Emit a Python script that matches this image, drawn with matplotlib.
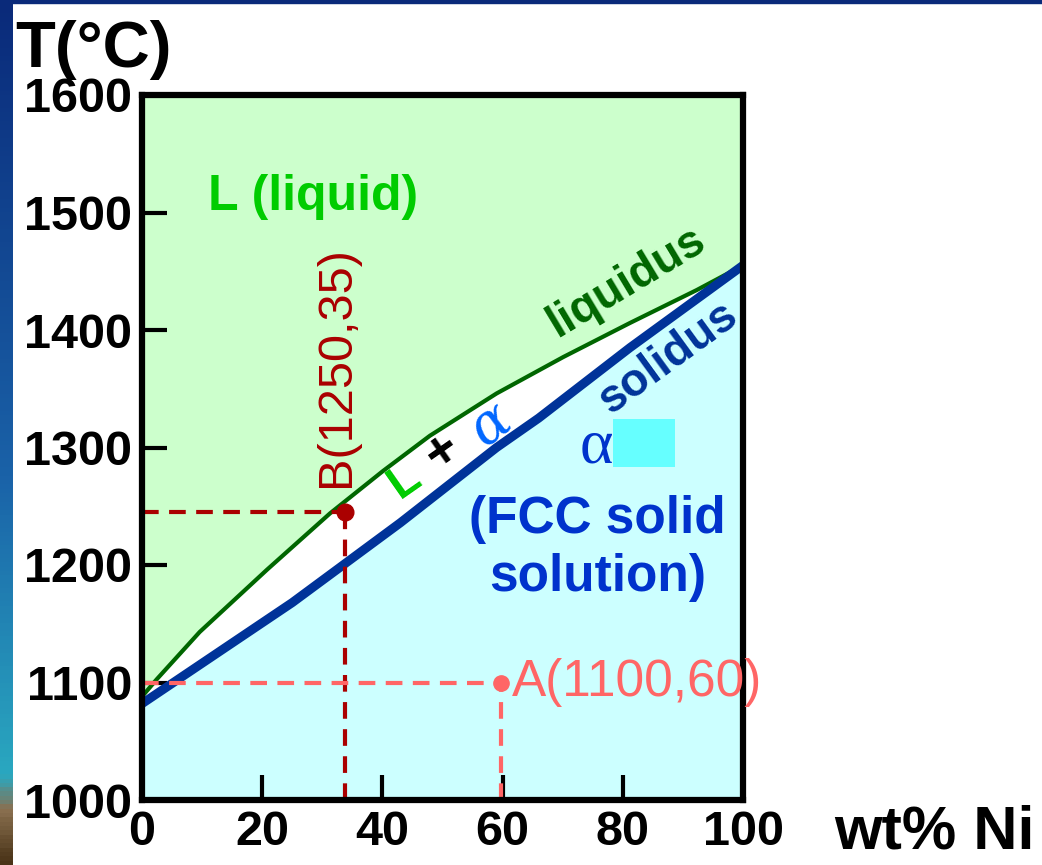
import numpy as np
import matplotlib.pyplot as plt
from matplotlib.colors import LinearSegmentedColormap
from matplotlib.patches import Rectangle

plt.rcParams['font.family'] = ['Liberation Sans', 'DejaVu Sans']

# liquidus / solidus
liq_ni = [0, 2.5, 9.6, 20.8, 31.3, 40.1, 47.9, 59.0, 70.1, 81.2, 92.3, 100]
liq_t = [1088, 1103, 1143, 1196, 1244, 1280, 1310, 1346, 1377, 1406, 1434, 1455]
sol_ni = [0, 25, 43, 59, 66, 81.2, 100]
sol_t = [1082, 1168, 1236, 1300, 1325, 1385, 1455]

# marked points
pt_b = (33.7, 1245)
pt_a = (59.7, 1100)
label_b = 'B(1250,35)'
label_a = 'A(1100,60)'

x_ticks = [0, 20, 40, 60, 80, 100]
y_ticks = [1000, 1100, 1200, 1300, 1400, 1500, 1600]

fig = plt.figure(figsize=(10.42, 8.65), dpi=100)

# slide decoration strips
deco = fig.add_axes([0, 0, 13 / 1042, 1])
cmap = LinearSegmentedColormap.from_list(
    'slide', [(0, '#4a3418'), (0.06, '#8a7050'), (0.1, '#2aa8c0'), (0.45, '#1a62a8'), (1, '#0a2a7a')])
deco.imshow(np.linspace(0, 1, 200).reshape(-1, 1), aspect='auto', cmap=cmap, origin='lower')
deco.axis('off')
fig.patches.append(Rectangle((0, 1 - 3 / 865), 1, 3 / 865, transform=fig.transFigure,
                             color='#0a2a7a', zorder=0))

ax = fig.add_axes([142 / 1042, 1 - 800 / 865, 601 / 1042, 705 / 865])
ax.set_xlim(0, 100)
ax.set_ylim(1000, 1600)

xs = np.linspace(0, 100, 400)
liq_full = np.interp(xs, liq_ni, liq_t)
sol_full = np.interp(xs, sol_ni, sol_t)
ax.fill_between(xs, liq_full, 1600, color='#ccffcc', lw=0)
ax.fill_between(xs, 1000, sol_full, color='#ccffff', lw=0)

ax.plot(liq_ni, liq_t, color='#006600', lw=3, solid_joinstyle='round')
ax.plot(sol_ni, sol_t, color='#003399', lw=6.5, solid_capstyle='butt')

# dashed guides
ax.plot([0, pt_b[0]], [pt_b[1], pt_b[1]], color='#aa0000', lw=3, dashes=(4, 2.5))
ax.plot([pt_b[0], pt_b[0]], [1000, pt_b[1]], color='#aa0000', lw=3, dashes=(4, 2.5))
ax.plot(*pt_b, 'o', color='#aa0000', ms=12)
ax.plot([0, pt_a[0]], [pt_a[1], pt_a[1]], color='#ff6666', lw=3, dashes=(4, 2.5))
ax.plot([pt_a[0], pt_a[0]], [1000, pt_a[1]], color='#ff6666', lw=3, dashes=(4, 2.5))
ax.plot(*pt_a, 'o', color='#ff6666', ms=11)

ax.text(32.4, 1369, label_b, rotation=90, color='#aa0000', fontsize=35,
        ha='center', va='center')
ax.text(61.5, 1100, label_a, color='#ff6666', fontsize=37, ha='left', va='center',
        clip_on=False)

ax.text(11, 1513, 'L (liquid)', color='#00cc00', fontsize=36, fontweight='bold',
        ha='left', va='center')
ax.text(80.6, 1441, 'liquidus', color='#006600', fontsize=33, fontweight='bold',
        rotation=31, ha='center', va='center')
ax.text(87.5, 1376, 'solidus', color='#003399', fontsize=33, fontweight='bold',
        rotation=36, ha='center', va='center')

ax.text(43.8, 1272, 'L', color='#00cc00', fontsize=34, fontweight='bold', rotation=35,
        ha='center', va='center')
ax.text(50, 1296, '+', color='black', fontsize=38, fontweight='bold', rotation=35,
        ha='center', va='center')
ax.text(58, 1320, 'α', color='#0066ff', fontsize=40, style='italic', rotation=35,
        family='DejaVu Serif', ha='center', va='center')

ax.add_patch(Rectangle((78.4, 1283), 10.3, 41, color='#66ffff', lw=0))
ax.text(75.6, 1300, 'α', color='#0033cc', fontsize=46, family='Liberation Serif',
        ha='center', va='center')
ax.text(75.8, 1214, '(FCC solid\nsolution)', color='#0033cc', fontsize=37,
        fontweight='bold', ha='center', va='center', linespacing=1.22)

ax.set_xticks(x_ticks)
ax.set_yticks(y_ticks)
ax.tick_params(direction='in', length=18, width=3, labelsize=35, pad=7)
for lab in ax.get_xticklabels() + ax.get_yticklabels():
    lab.set_fontweight('bold')
for s in ax.spines.values():
    s.set_linewidth(4.5)

fig.text(15 / 1042, 1 - 50 / 865, 'T(°C)', fontsize=47, fontweight='bold',
         ha='left', va='center')
fig.text(1035 / 1042, 1 - 833 / 865, 'wt% Ni', fontsize=44, fontweight='bold',
         ha='right', va='center')

fig.savefig('out.png', dpi=100)
